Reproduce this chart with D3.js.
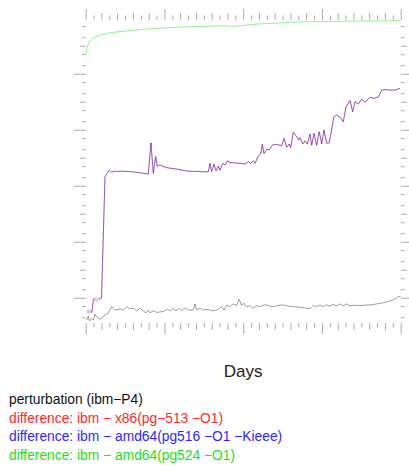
<!DOCTYPE html>
<html>
<head>
<meta charset="utf-8">
<script src="https://cdn.jsdelivr.net/npm/d3@7"></script>
<style>
  body { margin: 0; background: #fff; }
  text { font-family: "Liberation Sans", Arial, Helvetica, sans-serif; }
</style>
</head>
<body>
<div id="chart"></div>
<script>
// values: [day, value]
const perturbation = [
  [1.3, 1.6e-15], [3.3, 2.2e-15], [4.6, 1.5e-15], [7.6, 1.8e-15], [9.7, 1.6e-15],
  [11.8, 2.6e-15], [14, 2.0e-15], [17.3, 1.7e-15], [20.3, 1.9e-15], [24.5, 2.4e-15],
  [28.7, 2.8e-15], [33, 4.8e-15], [37.2, 3.6e-15], [43.6, 4.0e-15], [47.7, 3.6e-15],
  [52.1, 4.8e-15], [56.3, 4.0e-15], [60.4, 4.2e-15], [64.8, 3.4e-15], [69, 4.2e-15],
  [73.1, 3.35e-15], [76.6, 2.9e-15], [79.5, 3.6e-15], [81.7, 2.9e-15], [85.8, 3.4e-15],
  [90.2, 3.0e-15], [98.5, 3.2e-15], [103.6, 3.85e-15], [107, 3.4e-15], [111.2, 4.1e-15],
  [114.7, 3.35e-15], [118.9, 4.2e-15], [121.9, 3.4e-15], [126.1, 4.4e-15], [130.3, 3.6e-15],
  [136.6, 3.6e-15], [138.8, 6.0e-15], [141, 3.6e-15], [145.1, 4.2e-15], [149.3, 3.6e-15],
  [153.7, 3.85e-15], [162, 3.4e-15], [168.4, 3.85e-15], [172.7, 4.8e-15], [175.6, 3.6e-15],
  [179, 5.5e-15], [183.2, 4.8e-15], [187.4, 6.0e-15], [191.7, 5.2e-15], [194.7, 8.8e-15],
  [198.1, 5.5e-15], [201, 6.3e-15], [204.4, 4.8e-15], [208.6, 5.2e-15], [212.1, 4.2e-15],
  [217.1, 5.1e-15], [221.3, 4.8e-15], [225, 5.4e-15], [229.8, 5.5e-15], [234, 5.0e-15],
  [238.2, 4.8e-15], [244, 5.3e-15], [250.9, 5.5e-15], [257, 5.0e-15], [263.6, 4.8e-15],
  [270, 4.6e-15], [278, 4.3e-15], [284.8, 4.0e-15], [289, 5.2e-15], [293.3, 4.8e-15],
  [297.5, 5.5e-15], [301.7, 4.8e-15], [306, 5.5e-15], [310.2, 5.1e-15], [314.4, 5.8e-15],
  [318.7, 5.1e-15], [322.9, 6.0e-15], [327.1, 5.1e-15], [331.4, 6.0e-15], [335.6, 5.1e-15],
  [341, 5.4e-15], [348.3, 5.2e-15], [355, 5.5e-15], [361, 5.5e-15], [369.5, 6.0e-15],
  [377.9, 6.6e-15], [386.4, 7.6e-15], [392.8, 9.0e-15], [396.9, 1.09e-14], [400, 1.09e-14]
];

const diffX86 = [
  [1.3, 3.0e-15], [7.6, 3.0e-15], [9.7, 9.4e-15], [14, 9.6e-15], [20.1, 9.8e-15],
  [24.5, 2.1e-10], [30, 3.6e-10], [33, 3.0e-10], [37.2, 3.35e-10], [40.4, 3.2e-10],
  [43.6, 3.3e-10], [56, 3.2e-10], [69, 2.9e-10], [79.5, 2.6e-10], [82.9, 3.4e-9],
  [85.8, 2.8e-10], [88.9, 1.1e-9], [90.9, 5.0e-10], [94.3, 5.5e-10], [102.9, 4.4e-10],
  [115.6, 3.9e-10], [128.3, 3.35e-10], [155.7, 3.1e-10], [157.8, 6.3e-10], [160, 3.2e-10],
  [162.9, 5.8e-10], [165.5, 3.4e-10], [168.4, 5.0e-10], [170.5, 3.6e-10], [174, 6.3e-10],
  [176.9, 5.5e-10], [180.3, 7.8e-10], [183.2, 6.6e-10], [187.4, 6.6e-10], [195.9, 6.3e-10],
  [202.3, 6.0e-10], [206.5, 7.2e-10], [209.5, 6.3e-10], [212.8, 7.8e-10], [215, 6.3e-10],
  [219.2, 1.15e-9], [222.2, 1.35e-9], [224.3, 3.0e-9], [226.4, 1.4e-9], [229.8, 2.0e-9],
  [233.1, 1.9e-9], [237, 2.8e-9], [240.4, 3.0e-9], [248.9, 2.7e-9], [251.8, 4.9e-9],
  [255.2, 2.35e-9], [258.5, 3.1e-9], [260.3, 2.3e-9], [263.6, 8.1e-9], [267.9, 5.6e-9],
  [270.5, 4.3e-9], [272.1, 5.2e-9], [275.6, 3.1e-9], [278.5, 4.0e-9], [281.4, 3.1e-9],
  [284.8, 7.0e-9], [287, 2.8e-9], [289.9, 7.4e-9], [293.3, 2.8e-9], [296.6, 8.5e-9],
  [299.7, 3.1e-9], [302.6, 9.8e-9], [306, 3.3e-9], [309.3, 3.4e-9], [314.4, 2.2e-8],
  [315.3, 2.9e-8], [318.7, 3.35e-8], [322.9, 2.8e-8], [327.1, 1.9e-8], [330.5, 6.6e-8],
  [335.6, 1.1e-7], [339, 4.4e-8], [342, 1.0e-7], [346.2, 8.3e-8], [350.5, 1.25e-7],
  [354.7, 9.4e-8], [361, 1.45e-7], [366.1, 1.3e-7], [371.6, 1.5e-7], [375.9, 2.6e-7],
  [380.1, 2.7e-7], [386.4, 2.6e-7], [392.8, 2.6e-7], [399.1, 3.0e-7]
];

const diffAmd64Kieee = [
  [1.3, 3.4e-15], [6, 3.4e-15], [8, 3.0e-15], [10, 8.7e-15], [14, 7.9e-15],
  [17, 8.7e-15], [20.1, 9.6e-15]
].concat(diffX86.slice(5));

const diffAmd64 = [
  [0.4, 5.1e-6], [1.7, 9.0e-6], [4.2, 1.35e-5], [9.7, 1.9e-5], [18.2, 2.4e-5],
  [30.9, 2.9e-5], [52, 3.4e-5], [72.8, 3.85e-5], [94.3, 4.3e-5], [136.3, 4.8e-5],
  [179, 5.2e-5], [187, 4.9e-5], [221.3, 6.0e-5], [263.2, 6.9e-5], [306, 7.4e-5],
  [400, 7.8e-5]
];

const legendLabels = [
  "perturbation (ibm\u2212P4)",
  "difference: ibm \u2212 x86(pg\u2212513 \u2212O1)",
  "difference: ibm \u2212 amd64(pg516 \u2212O1 \u2212Kieee)",
  "difference: ibm \u2212 amd64(pg524 \u2212O1)"
];
const legendColors = ["#111", "#ff2a2a", "#2a2aff", "#22e022"];

// tick values
const xMajor = [0, 100, 200, 300, 400];
const xMedium = d3.range(20, 400, 20).filter(d => d % 100 !== 0);
const xMinor = d3.range(10, 400, 20);
const yLong = [1e-14, 1e-12, 1e-10, 1e-8, 1e-6];
const yMedium = [1e-13, 1e-11, 1e-9, 1e-7, 1e-5];
const yMinor = [2e-15, 5e-15, 2e-14, 5e-14, 2e-13, 5e-13, 2e-12, 5e-12, 2e-11, 5e-11,
  2e-10, 5e-10, 2e-9, 5e-9, 2e-8, 5e-8, 2e-7, 5e-7, 2e-6, 5e-6, 2e-5, 5e-5];

const W = 409, H = 466;
const plot = { left: 85.7, right: 400.7, top: 20, bottom: 323 };

const svg = d3.select("#chart").append("svg")
  .attr("width", W)
  .attr("height", H);

const x = d3.scaleLinear().domain([0, 400]).range([plot.left, plot.right]);
const y = d3.scaleLog().domain([1e-14, 1e-5]).range([297.7, 45.7]);

const tickColor = "#acacac";

// draw one set of ticks on an axis, no labels, no domain line
const drawTicks = (axisFn, scale, values, size, transform) => {
  const g = svg.append("g")
    .attr("transform", transform)
    .call(axisFn(scale).tickValues(values).tickSize(size).tickFormat(""));
  g.select(".domain").remove();
  g.selectAll("line").attr("stroke", tickColor);
};

[[xMajor, 11], [xMedium, 7], [xMinor, 4.5]].forEach(([vals, s]) => {
  drawTicks(d3.axisTop, x, vals, s, `translate(0,${plot.top})`);
  drawTicks(d3.axisBottom, x, vals, s, `translate(0,${plot.bottom})`);
});
[[yLong, 12], [yMedium, 6], [yMinor, 4]].forEach(([vals, s]) => {
  drawTicks(d3.axisLeft, y, vals, s, `translate(${plot.left},0)`);
  drawTicks(d3.axisRight, y, vals, s, `translate(${plot.right},0)`);
});

const line = d3.line()
  .x(d => x(d[0]))
  .y(d => y(d[1]));

svg.append("path")
  .datum(perturbation)
  .attr("d", line)
  .attr("fill", "none")
  .attr("stroke", "#000")
  .attr("stroke-opacity", 0.38)
  .attr("stroke-width", 1);

svg.append("path")
  .datum(diffX86)
  .attr("d", line)
  .attr("fill", "none")
  .attr("stroke", "#ff0000")
  .attr("stroke-opacity", 0.4)
  .attr("stroke-width", 1);

svg.append("path")
  .datum(diffAmd64Kieee)
  .attr("d", line)
  .attr("fill", "none")
  .attr("stroke", "#0000ff")
  .attr("stroke-opacity", 0.4)
  .attr("stroke-width", 1);

svg.append("path")
  .datum(diffAmd64)
  .attr("d", line)
  .attr("fill", "none")
  .attr("stroke", "#00e000")
  .attr("stroke-opacity", 0.45)
  .attr("stroke-width", 1);

// x axis title
svg.append("text")
  .attr("x", (plot.left + plot.right) / 2)
  .attr("y", 377)
  .attr("text-anchor", "middle")
  .style("font-size", "17px")
  .style("fill", "#222")
  .text("Days");

// legend
svg.selectAll(".legend")
  .data(legendLabels)
  .join("text")
  .attr("class", "legend")
  .attr("x", 9)
  .attr("y", (d, i) => 404 + i * 18.7)
  .style("font-size", "13.8px")
  .style("fill", (d, i) => legendColors[i])
  .text(d => d);
</script>
</body>
</html>
